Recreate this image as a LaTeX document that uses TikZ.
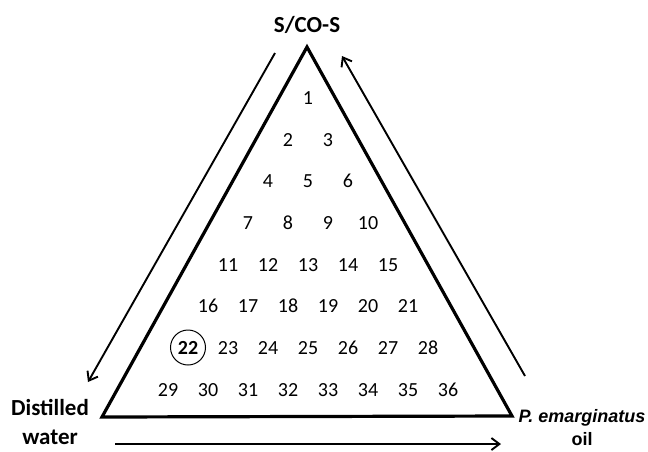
\documentclass[tikz,border=0pt]{standalone}
\usepackage{fontspec}
\setmainfont{Carlito}
\newfontfamily\arialfont{Liberation Sans}
\usetikzlibrary{arrows.meta}
\tikzset{
  num/.style={font=\fontsize{20}{22}\selectfont, inner sep=0pt, anchor=base},
  lbl/.style={font=\fontsize{23}{29}\selectfont\bfseries, align=center, inner sep=0pt},
  tri/.style={line width=3.2pt, line join=miter},
  arr/.style={-{Straight Barb[length=8pt, width=12pt]}, line width=1.9pt},
  ring/.style={line width=1pt},
}

\begin{document}
\begin{tikzpicture}[x=1pt, y=-1pt]
\useasboundingbox (0,0) rectangle (648,451);

% Triangle corners
\coordinate (top) at (307,47);
\coordinate (bl) at (102,417);
\coordinate (br) at (512,416);
\draw[tri] (top) -- (bl) -- (br) -- cycle;

% Corner labels
\node[lbl] at (307,25) (scos) {S/CO-S};
\node[lbl] at (50,422) (water) {Distilled\\water};
\node[font=\fontsize{18}{23}\selectfont\arialfont\bfseries, align=center, inner sep=0pt]
  at (582,428) (oil) {\itshape P. emarginatus\\oil};

% Arrows along the sides
\coordinate (a1s) at (275,53);
\coordinate (a1e) at (88,382);
\coordinate (a2s) at (525,376);
\coordinate (a2e) at (342,56);
\coordinate (a3s) at (115,444);
\coordinate (a3e) at (501,444);
\draw[arr] (a1s) -- (a1e);
\draw[arr] (a2s) -- (a2e);
\draw[arr] (a3s) -- (a3e);

% Formulation numbers, row by row
\foreach \r in {0,...,7}{
  \foreach \k in {0,...,\r}{
    \pgfmathtruncatemacro{\n}{\r*(\r+1)/2+\k+1}
    \pgfmathtruncatemacro{\yy}{round(104+41.7*\r)}
    \ifnum\n=22
      \node[num, font=\fontsize{20}{22}\selectfont\bfseries] at ({308+40*(\k-\r/2)},\yy) (n\n) {\n};
    \else
      \node[num] at ({308+40*(\k-\r/2)},\yy) (n\n) {\n};
    \fi
  }
}

% Selected formulation
\draw[ring] ([yshift=6.5pt]n22.base) circle (17.5);

\end{tikzpicture}
\end{document}
